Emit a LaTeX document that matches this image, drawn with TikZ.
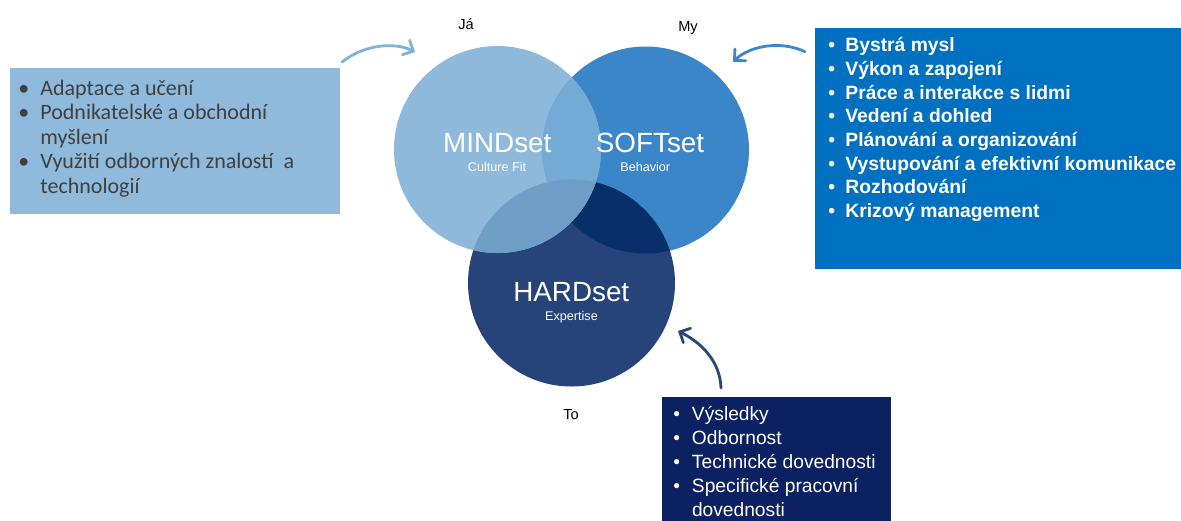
\documentclass[tikz,border=0pt]{standalone}
\usepackage{fontspec}
\setmainfont{Liberation Sans}
\newfontfamily\carlitofont{Carlito}
\usetikzlibrary{arrows.meta}
\definecolor{mindc}{HTML}{8EB9DB}
\definecolor{softc}{HTML}{3B86C8}
\definecolor{hardc}{HTML}{27447A}
\definecolor{msc}{HTML}{73AAD6}
\definecolor{mhc}{HTML}{6F9EC7}
\definecolor{shc}{HTML}{07306B}
\definecolor{lboxc}{HTML}{8FBADC}
\definecolor{rboxc}{HTML}{0070C0}
\definecolor{bboxc}{HTML}{0C2161}
\definecolor{ltext}{HTML}{404040}
\definecolor{arrowa}{HTML}{80B2DA}
\definecolor{arrowb}{HTML}{3A88CB}
\definecolor{arrowc}{HTML}{27457B}
\newcommand{\bitem}[2]{\par\noindent\hangindent=#1\hangafter=1\makebox[#1][l]{\textbullet}#2}
\newcommand{\boxlist}[2]{\begin{minipage}[t]{#1}\raggedright#2\par\end{minipage}}
\def\rr{51.75pt}
\tikzset{
  venn/.style={circle, minimum size=103.5pt, inner sep=0pt, draw=none},
  boxshape/.style={rectangle, inner sep=0pt, draw=none, anchor=north west},
  title/.style={anchor=base, inner sep=0pt, text=white, font=\fontsize{13.9pt}{16pt}\selectfont},
  subtitle/.style={anchor=base, inner sep=0pt, text=white, font=\fontsize{6.3pt}{7pt}\selectfont},
  lbl/.style={anchor=base, inner sep=0pt, text=black, font=\fontsize{7.3pt}{8pt}\selectfont},
  listtext/.style={anchor=base west, inner sep=0pt},
  curved/.style={line width=1.4pt, line cap=round, -{Straight Barb[length=4pt,width=8pt,line cap=round]}}
}
\begin{document}
\begin{tikzpicture}[x=0.5pt,y=-0.5pt]
\useasboundingbox (0,0) rectangle (1181,520);
% circles
\node[venn, fill=softc] (soft) at (645.5,150) {};
\node[venn, fill=hardc] (hard) at (571.5,283) {};
\begin{scope}
  \clip (soft.center) circle[radius=\rr];
  \fill[shc] (hard.center) circle[radius=\rr];
\end{scope}
\node[venn, fill=mindc] (mind) at (497.5,149.5) {};
\begin{scope}
  \clip (mind.center) circle[radius=\rr];
  \fill[msc] (soft.center) circle[radius=\rr];
\end{scope}
\begin{scope}
  \clip (mind.center) circle[radius=\rr];
  \fill[mhc] (hard.center) circle[radius=\rr];
\end{scope}
% circle titles
\node[title] (mindt) at (497.3,152.7) {MINDset};
\node[subtitle] (minds) at (497,171) {Culture Fit};
\node[title] (softt) at (650,152.7) {SOFTset};
\node[subtitle] (softs) at (645.3,171) {Behavior};
\node[title] (hardt) at (571.3,301.7) {HARDset};
\node[subtitle] (hards) at (571.5,320.7) {Expertise};
% labels
\node[lbl] (ja) at (466,29.3) {Já};
\node[lbl] (my) at (688,31.7) {My};
\node[lbl] (to) at (571,419) {To};
% boxes
\node[boxshape, fill=lboxc, minimum width=165pt, minimum height=73pt] (lbox) at (10,68) {};
\node[boxshape, fill=rboxc, minimum width=183pt, minimum height=120.5pt] (rbox) at (815,28) {};
\node[boxshape, fill=bboxc, minimum width=114.5pt, minimum height=62pt] (bbox) at (662,397) {};
% box texts
\node[listtext, text=ltext, font=\carlitofont\fontsize{11pt}{12.25pt}\selectfont] (ltxt) at (18,95) {\boxlist{170pt}{%
\bitem{11pt}{Adaptace a učení}%
\bitem{11pt}{Podnikatelské a obchodní\newline myšlení}%
\bitem{11pt}{Využití odborných znalostí\ \ a\newline technologií}}};
\node[listtext, text=white, font=\bfseries\fontsize{9.65pt}{11.83pt}\selectfont] (rtxt) at (828,51.7) {\boxlist{190pt}{%
\bitem{8.5pt}{Bystrá mysl}%
\bitem{8.5pt}{Výkon a zapojení}%
\bitem{8.5pt}{Práce a interakce s lidmi}%
\bitem{8.5pt}{Vedení a dohled}%
\bitem{8.5pt}{Plánování a organizování}%
\bitem{8.5pt}{Vystupování a efektivní komunikace}%
\bitem{8.5pt}{Rozhodování}%
\bitem{8.5pt}{Krizový management}}};
\node[listtext, text=white, font=\fontsize{9.6pt}{12pt}\selectfont] (btxt) at (673,420) {\boxlist{120pt}{%
\bitem{9.3pt}{Výsledky}%
\bitem{9.3pt}{Odbornost}%
\bitem{9.3pt}{Technické dovednosti}%
\bitem{9.3pt}{Specifické pracovní\newline dovednosti}}};
% arrows
\coordinate (a1s) at (342,62);
\coordinate (a1e) at (415,52);
\coordinate (a2s) at (805,51.7);
\coordinate (a2e) at (733,61.7);
\coordinate (a3s) at (721,388);
\coordinate (a3e) at (678,331);
\draw[curved, arrowa] (a1s) .. controls (365,44) and (395,42) .. (a1e);
\draw[curved, arrowb] (a2s) .. controls (780,40) and (750,46) .. (a2e);
\draw[curved, arrowc] (a3s) .. controls (720,360) and (700,342) .. (a3e);
\end{tikzpicture}
\end{document}
